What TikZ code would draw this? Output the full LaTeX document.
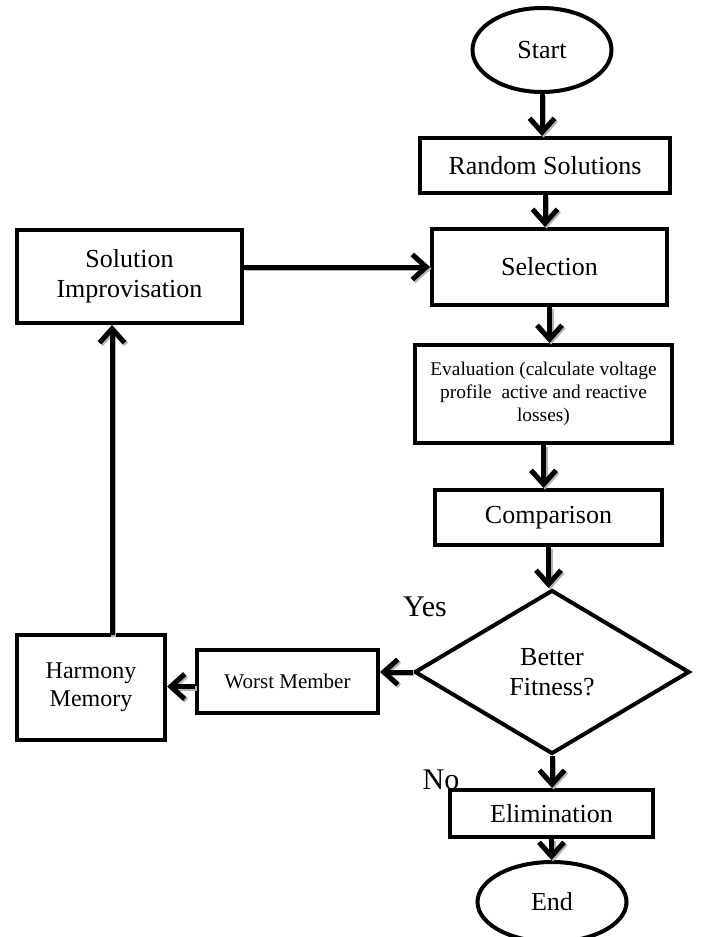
\documentclass[tikz,border=0pt]{standalone}
\usepackage{fontspec}
\setmainfont{Liberation Serif}
\usetikzlibrary{shapes.geometric,arrows.meta}
\tikzset{
  box/.style={draw, line width=2pt, rectangle, inner sep=2pt, align=center, font=\fontsize{13}{15}\selectfont},
  oval/.style={draw, line width=2pt, ellipse, inner sep=0pt, font=\fontsize{13}{15}\selectfont},
  decision/.style={draw, line width=2pt, diamond, inner sep=0pt, align=center, font=\fontsize{13}{15}\selectfont},
  flow/.style={line width=2.5pt, -{Straight Barb[length=7pt,width=12.5pt]},
    preaction={draw=gray!60, line width=2.5pt, transform canvas={shift={(0.8pt,-0.8pt)}}}},
  lbl/.style={font=\fontsize{15}{17}\selectfont, inner sep=0pt}
}
\begin{document}
\begin{tikzpicture}[x=0.5pt,y=-0.5pt]
\useasboundingbox (0,0) rectangle (710,937);
\node[oval, minimum width=69.5pt, minimum height=42pt] (start) at (542,50) {Start};
\node[box, minimum width=125pt, minimum height=27.5pt] (rand) at (545,165.5) {Random Solutions};
\node[box, minimum width=117.5pt, minimum height=38pt] (sel) at (549.5,267) {Selection};
\node[box, minimum width=112.5pt, minimum height=46.5pt] (solimp) at (129.5,276.5) {Solution\\Improvisation};
\node[box, minimum width=128.5pt, minimum height=49pt, font=\fontsize{9.7}{11.5}\selectfont] (eval) at (543.5,394) {Evaluation (calculate voltage\\profile\ \ active and reactive\\losses)};
\node[box, minimum width=113.5pt, minimum height=27.5pt] (comp) at (548.5,517.5) {Comparison};
\node[decision, minimum width=137.5pt, minimum height=82pt] (dia) at (552,672) {Better\\Fitness?};
\node[box, minimum width=90.5pt, minimum height=31.5pt, font=\fontsize{10.5}{12}\selectfont] (worst) at (287.5,681.5) {Worst Member};
\node[box, minimum width=74pt, minimum height=52.5pt, font=\fontsize{12}{14}\selectfont] (harm) at (91,687.5) {Harmony\\Memory};
\node[box, minimum width=101.5pt, minimum height=23.5pt] (elim) at (551.5,813.5) {Elimination};
\node[oval, minimum width=74.5pt, minimum height=40pt] (end) at (552,902) {End};
\node[lbl] (yes) at (425,607) {Yes};
\node[lbl] (no) at (441,780) {No};
\coordinate (hm) at (112,635);
\draw[flow] (start) -- (start |- rand.north);
\draw[flow] (rand) -- (rand |- sel.north);
\draw[flow] (solimp.east |- sel.west) -- (sel.west);
\draw[flow] (sel) -- (sel |- eval.north);
\draw[flow] (eval) -- (eval |- comp.north);
\draw[flow] (comp) -- (comp |- dia.north);
\draw[flow] (dia.west) -- (dia.west -| worst.east);
\draw[flow] ([yshift=-2.5pt]worst.west) -- ([yshift=-2.5pt]worst.west -| harm.east);
\draw[flow] (hm) -- (hm |- solimp.south);
\draw[flow] (dia.south) -- (dia.south |- elim.north);
\draw[flow] (elim) -- (elim |- end.north);
\end{tikzpicture}
\end{document}
